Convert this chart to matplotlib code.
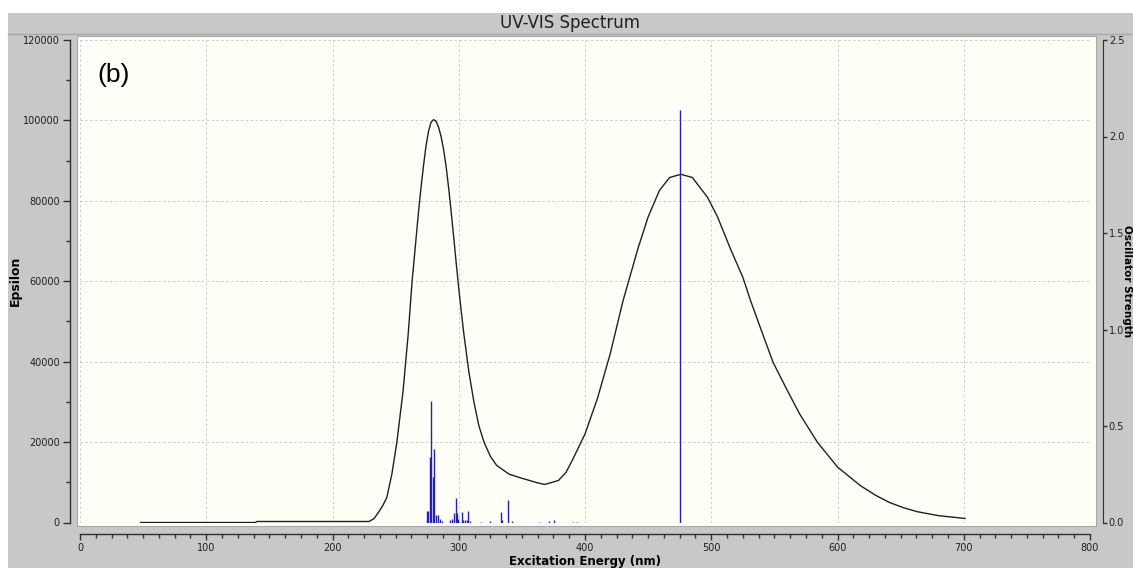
import numpy as np
import matplotlib
matplotlib.use('Agg')
import matplotlib.pyplot as plt
from matplotlib.patches import Rectangle
from matplotlib.lines import Line2D
from matplotlib.ticker import MultipleLocator, FormatStrFormatter

# spectrum curve (nm, epsilon)
wl = [48, 139, 140, 229, 233, 237, 240, 243, 247, 251, 256, 260, 263, 266, 268, 270,
      272, 274, 276, 278, 280, 282, 284, 286, 288, 290, 292, 294, 296, 298, 300, 302,
      304, 308, 312, 316, 320, 325, 330, 340, 350, 356, 362, 368, 373, 379, 385, 390,
      400, 410, 420, 430, 442, 450, 459, 467, 476, 485, 497, 505, 515, 525, 531, 540,
      549, 560, 570, 584, 600, 618, 630, 641, 652, 663, 680, 701]
eps = [0, 0, 250, 250, 1000, 2800, 4300, 6200, 12000, 20000, 33000, 47000, 59800, 70000,
       76800, 83000, 88500, 93500, 97200, 99500, 100200, 99800, 98300, 96000, 92800,
       88500, 83200, 77200, 71000, 64500, 58200, 52500, 47000, 37500, 30000, 24000,
       20000, 16500, 14200, 12000, 11000, 10450, 9900, 9460, 9900, 10450, 12500, 15500,
       22000, 31000, 42000, 55000, 68200, 76000, 82600, 85800, 86600, 85800, 80900,
       76000, 68200, 61000, 55300, 47500, 39800, 33000, 27000, 20000, 13800, 9200,
       6800, 5000, 3700, 2700, 1700, 1000]

# excited states (nm, oscillator strength)
stick_nm = [274.6, 275.1, 276.0, 277.0, 278.0, 279.3, 280.7, 281.7, 283.3, 285.0, 287.0,
            293.0, 294.4, 296.2, 297.6, 298.4, 299.2, 302.3, 303.6, 305.0, 306.3, 307.6,
            309.0, 318.0, 324.8, 333.2, 334.5, 338.7, 342.3, 364.4, 371.5, 375.4, 390.7,
            393.4, 475.0]
stick_f = [0.015, 0.057, 0.057, 0.34, 0.63, 0.235, 0.38, 0.04, 0.04, 0.02, 0.01,
           0.014, 0.02, 0.047, 0.128, 0.047, 0.02, 0.053, 0.014, 0.014, 0.014, 0.059,
           0.01, 0.005, 0.009, 0.053, 0.014, 0.119, 0.01, 0.005, 0.009, 0.014, 0.005,
           0.005, 2.137]

W, H = 1133, 570
fig = plt.figure(figsize=(W / 100, H / 100), dpi=100)
fig.patch.set_facecolor('white')


def fx(px):
    return px / W


def fy(py):
    return 1 - py / H


# gray panel, title bar line and cream plot background
fig.patches.append(Rectangle((fx(8), fy(568)), fx(1133) - fx(8), fy(13) - fy(568),
                             transform=fig.transFigure, facecolor='#c8c8c8',
                             edgecolor='none', zorder=-3))
fig.lines.append(Line2D([fx(8), fx(1133)], [fy(34), fy(34)], transform=fig.transFigure,
                        color='#a8a8a8', lw=1, zorder=-2))
fig.patches.append(Rectangle((fx(77), fy(526)), fx(1096) - fx(77), fy(36) - fy(526),
                             transform=fig.transFigure, facecolor='#fffff7',
                             edgecolor='#a8a8a8', lw=0.8, zorder=-2))

ax = fig.add_axes([fx(80), fy(522.5), fx(1090) - fx(80), fy(40) - fy(522.5)])
ax.patch.set_visible(False)
ax.set_xlim(0, 800)
ax.set_ylim(0, 120000)

ax.plot(wl, eps, color='#202020', lw=1.0, zorder=3)

ax.xaxis.set_major_locator(MultipleLocator(100))
ax.xaxis.set_minor_locator(MultipleLocator(12.5))
ax.yaxis.set_major_locator(MultipleLocator(20000))
ax.yaxis.set_minor_locator(MultipleLocator(10000))
ax.grid(True, which='major', color='#cccccc', lw=0.7, linestyle=(0, (2.5, 2.5)), zorder=0)

for s in ['top', 'right']:
    ax.spines[s].set_visible(False)
ax.spines['left'].set_position(('outward', 7))
ax.spines['bottom'].set_position(('outward', 8))
ax.spines['left'].set_bounds(0, 120000)
ax.spines['bottom'].set_bounds(0, 800)
for s in ['left', 'bottom']:
    ax.spines[s].set_color('#303030')
    ax.spines[s].set_linewidth(1)

ax.tick_params(axis='both', which='major', length=5, width=1, color='#303030',
               labelsize=7, labelcolor='#202020')
ax.tick_params(axis='both', which='minor', length=3, width=1, color='#303030')
ax.tick_params(axis='x', which='major', length=4.5, pad=2.5)
ax.tick_params(axis='y', pad=2.5)

ax2 = ax.twinx()
ax2.set_ylim(0, 2.5)
ax2.vlines(stick_nm, 0, stick_f, color='#2222bb', lw=1.0, zorder=2)
ax2.yaxis.set_major_locator(MultipleLocator(0.5))
ax2.yaxis.set_major_formatter(FormatStrFormatter('%.1f'))
for s in ['top', 'left', 'bottom']:
    ax2.spines[s].set_visible(False)
ax2.spines['right'].set_position(('outward', 9))
ax2.spines['right'].set_bounds(0, 2.5)
ax2.spines['right'].set_color('#303030')
ax2.tick_params(axis='y', length=3, width=1, color='#303030', labelsize=7,
                labelcolor='#202020', pad=1.5)

fig.text(fx(97), fy(75), '(b)', fontsize=19, family='Liberation Sans',
         ha='left', va='center')

fig.text(fx(570.5), fy(22.7), 'UV-VIS Spectrum', fontsize=12, ha='center', va='center',
         color='#202020')
fig.text(fx(15), fy(281), 'Epsilon', fontsize=9, fontweight='bold', rotation=90,
         ha='center', va='center')
fig.text(fx(585), fy(562), 'Excitation Energy (nm)', fontsize=8.5, fontweight='bold',
         ha='center', va='center')
fig.text(fx(1127.5), fy(281), 'Oscillator Strength', fontsize=7.5, fontweight='bold',
         rotation=-90, ha='center', va='center')

fig.savefig('out.png', dpi=100)
